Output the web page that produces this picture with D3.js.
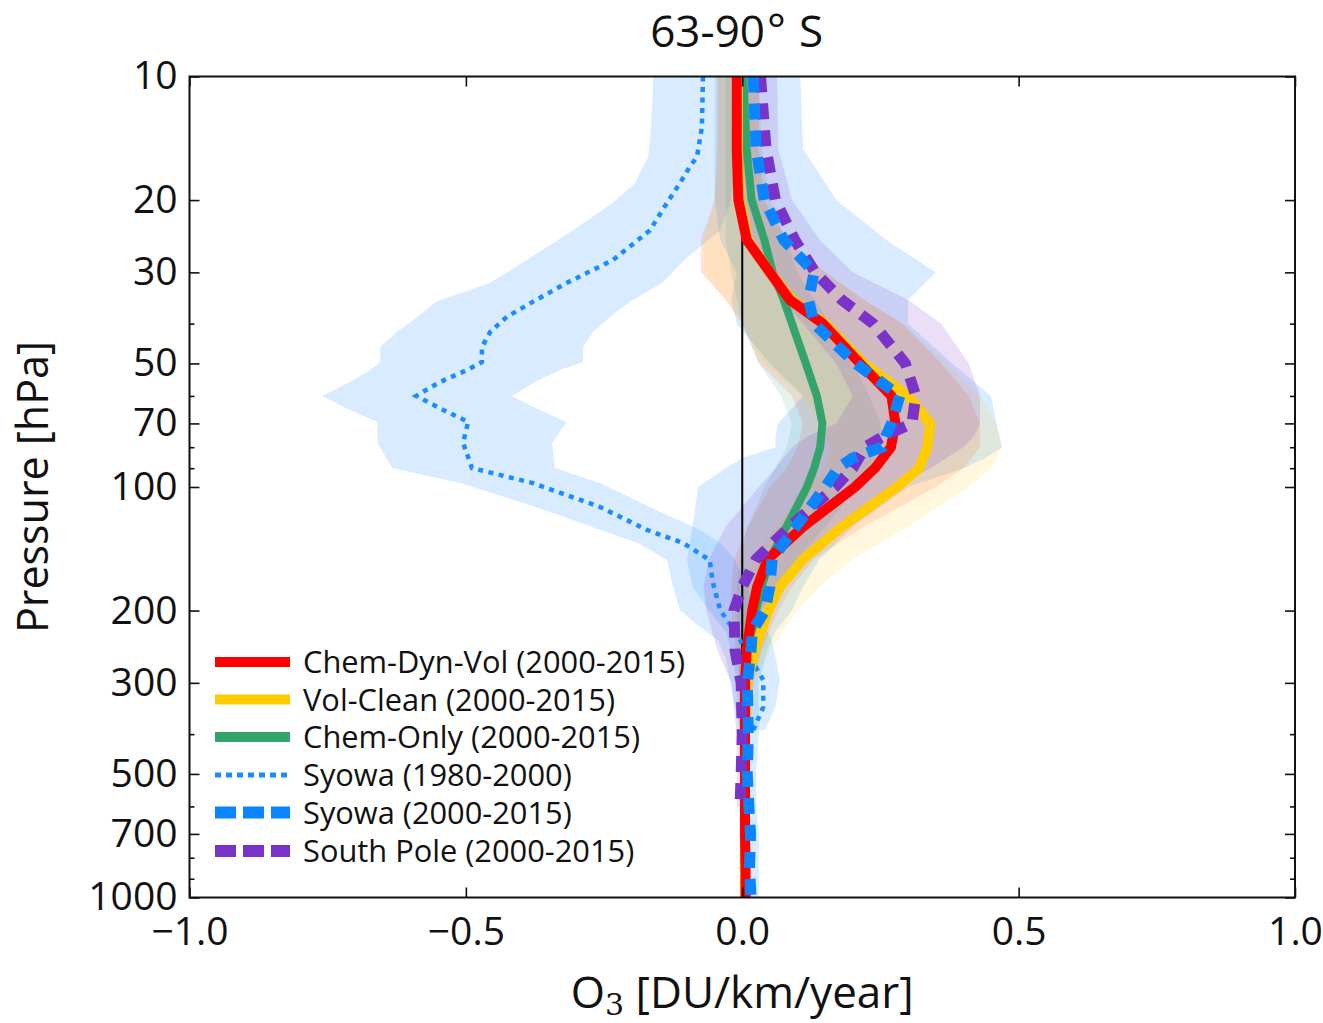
<!DOCTYPE html>
<html>
<head>
<meta charset="utf-8">
<script src="https://cdn.jsdelivr.net/npm/d3@7"></script>
<style>
  html, body { margin: 0; padding: 0; background: #fff; }
  text { font-family: "Open Sans", "DejaVu Sans", sans-serif; fill: #111; }
</style>
</head>
<body>
<svg id="chart" width="1323" height="1023"></svg>
<script>
// ---------------- DATA ----------------
// Model pressure levels (hPa)
const levels = [10,15,20,25,30,35,40,50,60,70,80,90,100,125,150,175,200,250,300,400,500,700,850,1000];
const chemDynVol     = [-0.01,-0.01,-0.007,0.008,0.05,0.086,0.146,0.213,0.27,0.277,0.269,0.24,0.204,0.11,0.046,0.027,0.018,0.008,0.005,0.005,0.005,0.005,0.006,0.006];
const chemDynVolLo   = [-0.045,-0.045,-0.05,-0.075,-0.075,-0.03,0.0,0.03,0.09,0.11,0.1,0.08,0.05,0.01,-0.015,-0.02,-0.02,-0.012,-0.006,-0.003,-0.002,-0.002,-0.002,-0.002];
const chemDynVolHi   = [0.03,0.03,0.04,0.08,0.15,0.22,0.29,0.36,0.41,0.43,0.43,0.4,0.35,0.22,0.13,0.09,0.065,0.035,0.02,0.014,0.012,0.012,0.012,0.012];
const volClean       = [-0.008,-0.008,-0.004,0.01,0.05,0.09,0.15,0.22,0.3,0.34,0.335,0.32,0.28,0.18,0.11,0.068,0.047,0.023,0.008,0.005,0.005,0.005,0.005,0.005];
const volCleanLo     = [-0.045,-0.045,-0.05,-0.07,-0.07,-0.03,0.0,0.04,0.11,0.14,0.16,0.15,0.12,0.06,0.02,0.0,-0.005,-0.005,-0.003,-0.002,-0.002,-0.002,-0.002,-0.002];
const volCleanHi     = [0.03,0.03,0.04,0.08,0.15,0.22,0.29,0.37,0.43,0.46,0.47,0.45,0.41,0.3,0.2,0.14,0.1,0.05,0.025,0.014,0.012,0.012,0.012,0.012];
const chemOnly       = [0.002,0.008,0.017,0.04,0.055,0.075,0.09,0.115,0.135,0.145,0.141,0.13,0.117,0.08,0.05,0.035,0.025,0.01,0.005,0.004,0.004,0.004,0.004,0.004];
const chemOnlyLo     = [-0.03,-0.03,-0.03,-0.03,-0.02,-0.01,0.0,0.03,0.07,0.09,0.08,0.06,0.04,0.01,-0.005,-0.01,-0.01,-0.008,-0.005,-0.003,-0.002,-0.002,-0.002,-0.002];
const chemOnlyHi     = [0.03,0.035,0.05,0.08,0.1,0.13,0.16,0.2,0.23,0.25,0.25,0.23,0.21,0.15,0.1,0.07,0.05,0.03,0.015,0.01,0.01,0.01,0.01,0.01];

// Syowa 1980-2000 (ozonesonde)
const syowaOldLevels = [10,13.3,15.7,16.6,18.2,20.3,23.7,28,31.8,35.4,38.5,41.9,45.6,49.6,51.9,55.5,60,64.9,69.4,78.1,89.9,97.8,111.9,127.3,136.9,150.6,171.3,199.3,219.3,235.8,259.5,295.2,343.6,390.8];
const syowaOld   = [-0.071,-0.073,-0.082,-0.095,-0.113,-0.136,-0.167,-0.234,-0.317,-0.379,-0.426,-0.456,-0.471,-0.471,-0.498,-0.547,-0.59,-0.541,-0.496,-0.505,-0.489,-0.379,-0.257,-0.172,-0.107,-0.059,-0.053,-0.04,-0.019,-0.004,0.014,0.038,0.038,0.02];
const syowaOldLo = [-0.161,-0.165,-0.17,-0.18,-0.194,-0.234,-0.306,-0.39,-0.456,-0.554,-0.587,-0.625,-0.655,-0.655,-0.673,-0.71,-0.76,-0.71,-0.66,-0.66,-0.633,-0.51,-0.373,-0.256,-0.189,-0.136,-0.127,-0.113,-0.077,-0.044,-0.031,-0.022,-0.013,-0.004];
const syowaOldHi = [-0.022,-0.02,-0.017,-0.017,-0.017,-0.022,-0.04,-0.105,-0.144,-0.203,-0.239,-0.27,-0.288,-0.288,-0.33,-0.375,-0.417,-0.366,-0.318,-0.344,-0.339,-0.257,-0.167,-0.076,-0.04,-0.013,0.005,0.023,0.041,0.053,0.06,0.068,0.06,0.041];

// Syowa 2000-2015
const syowaNewLevels = [10,15,20,25,30,35,40,50,60,70,75,80,85,90,100,125,150,175,200,225,250,300,400,500,600,700,850,1000];
const syowaNew   = [0.02,0.025,0.04,0.075,0.13,0.12,0.13,0.205,0.285,0.27,0.26,0.253,0.2,0.173,0.15,0.097,0.054,0.05,0.041,0.018,0.016,0.009,0.011,0.009,0.012,0.015,0.013,0.016];
const syowaNewLo = [-0.05,-0.05,-0.05,-0.04,-0.01,-0.02,-0.01,0.05,0.11,0.065,0.06,0.06,0.0,-0.03,-0.08,-0.09,-0.1,-0.09,-0.06,-0.03,-0.02,-0.01,-0.005,-0.005,-0.003,-0.002,-0.002,0.0];
const syowaNewHi = [0.105,0.11,0.17,0.26,0.35,0.3,0.3,0.38,0.45,0.46,0.465,0.47,0.44,0.4,0.3,0.2,0.14,0.11,0.09,0.06,0.045,0.03,0.03,0.025,0.025,0.03,0.03,0.03];

// South Pole 2000-2015
const southPoleLevels = [10,15,20,25,30,35,40,50,60,70,75,80,90,100,125,150,175,200,250,300,400,500,600];
const southPole   = [0.033,0.043,0.06,0.095,0.132,0.18,0.237,0.295,0.314,0.307,0.258,0.222,0.2,0.168,0.086,0.025,0.0,-0.015,-0.013,-0.002,0.0,-0.002,-0.004];
const southPoleLo = [0.0,0.0,0.005,0.02,0.04,0.07,0.11,0.17,0.2,0.17,0.12,0.09,0.06,0.03,-0.03,-0.06,-0.07,-0.065,-0.045,-0.02,-0.01,-0.01,-0.01];
const southPoleHi = [0.063,0.065,0.09,0.14,0.2,0.3,0.36,0.41,0.43,0.43,0.42,0.4,0.34,0.28,0.17,0.1,0.06,0.035,0.02,0.012,0.01,0.008,0.006];

// Axis ticks
const yMajorTicks = [10,20,30,50,70,100,200,300,500,700,1000];
const yMinorTicks = [40,60,80,90,400,600,800,900];
const xTicks = [-1.0,-0.5,0.0,0.5,1.0];

const legendLabels = ["Chem-Dyn-Vol (2000-2015)","Vol-Clean (2000-2015)","Chem-Only (2000-2015)","Syowa (1980-2000)","Syowa (2000-2015)","South Pole (2000-2015)"];

// ---------------- DRAW ----------------
const svg = d3.select("#chart");
const L = 189.5, R = 1295, T = 76.5, B = 897.5;
const x = d3.scaleLinear().domain([-1, 1]).range([L, R]);
const y = d3.scaleLog().domain([10, 1000]).range([T, B]);

svg.append("rect").attr("width",1323).attr("height",1023).attr("fill","#fff");
svg.append("defs").append("clipPath").attr("id","clip")
  .append("rect").attr("x",L).attr("y",T).attr("width",R-L).attr("height",B-T);

const plot = svg.append("g").attr("clip-path","url(#clip)");

function zip(lv, a, lo, hi) { return lv.map((p,i)=>({p, v:a[i], lo: lo?lo[i]:null, hi: hi?hi[i]:null})); }

const area = d3.area().y(d=>y(d.p)).x0(d=>x(d.lo)).x1(d=>x(d.hi));
const line = d3.line().x(d=>x(d.v)).y(d=>y(d.p));

const C = {
  red: "#ff0000", yellow: "#ffcc00", green: "#33a46c",
  blue: "#0a85ff", dotted: "#1a8cff", purple: "#7a33c9"
};

const dOld = zip(syowaOldLevels, syowaOld, syowaOldLo, syowaOldHi);
const dNew = zip(syowaNewLevels, syowaNew, syowaNewLo, syowaNewHi);
const dSP  = zip(southPoleLevels, southPole, southPoleLo, southPoleHi);
const dRed = zip(levels, chemDynVol, chemDynVolLo, chemDynVolHi);
const dYel = zip(levels, volClean, volCleanLo, volCleanHi);
const dGrn = zip(levels, chemOnly, chemOnlyLo, chemOnlyHi);

// bands
plot.append("path").datum(dOld).attr("d",area).attr("fill","#1e90ff").attr("fill-opacity",0.17);
plot.append("path").datum(dNew).attr("d",area).attr("fill","#1e90ff").attr("fill-opacity",0.17);
plot.append("path").datum(dRed).attr("d",area).attr("fill","#ff3300").attr("fill-opacity",0.13);
plot.append("path").datum(dYel).attr("d",area).attr("fill","#ffcc00").attr("fill-opacity",0.13);
plot.append("path").datum(dGrn).attr("d",area).attr("fill","#2e9e6b").attr("fill-opacity",0.12);
plot.append("path").datum(dSP).attr("d",area).attr("fill","#7b35c8").attr("fill-opacity",0.16);

// zero line
plot.append("line").attr("x1",x(0)).attr("x2",x(0)).attr("y1",T).attr("y2",B)
  .attr("stroke","#000").attr("stroke-width",2);

// lines
plot.append("path").datum(dOld).attr("d",line).attr("fill","none")
  .attr("stroke",C.dotted).attr("stroke-width",4.5).attr("stroke-dasharray","5,5.5");
plot.append("path").datum(dGrn).attr("d",line).attr("fill","none")
  .attr("stroke",C.green).attr("stroke-width",8).attr("stroke-linejoin","round");
plot.append("path").datum(dYel).attr("d",line).attr("fill","none")
  .attr("stroke",C.yellow).attr("stroke-width",10).attr("stroke-linejoin","round");
plot.append("path").datum(dRed).attr("d",line).attr("fill","none")
  .attr("stroke",C.red).attr("stroke-width",10).attr("stroke-linejoin","round");
plot.append("path").datum(dSP).attr("d",line).attr("fill","none")
  .attr("stroke",C.purple).attr("stroke-width",11).attr("stroke-dasharray","16,11");
plot.append("path").datum(dNew).attr("d",line).attr("fill","none")
  .attr("stroke",C.blue).attr("stroke-width",11).attr("stroke-dasharray","16,11");

// axes
const fontTick = 39;
const ax = svg.append("g");
ax.append("g").attr("transform",`translate(${L},0)`)
  .call(d3.axisLeft(y).tickValues(yMajorTicks).tickFormat(d3.format("d")).tickSizeInner(-10).tickSizeOuter(0).tickPadding(12));
ax.append("g").attr("transform",`translate(${L},0)`)
  .call(d3.axisLeft(y).tickValues(yMinorTicks).tickFormat("").tickSizeInner(-5).tickSizeOuter(0));
ax.append("g").attr("transform",`translate(${R},0)`)
  .call(d3.axisRight(y).tickValues(yMajorTicks).tickFormat("").tickSizeInner(-10).tickSizeOuter(0));
ax.append("g").attr("transform",`translate(${R},0)`)
  .call(d3.axisRight(y).tickValues(yMinorTicks).tickFormat("").tickSizeInner(-5).tickSizeOuter(0));
ax.append("g").attr("transform",`translate(0,${B})`)
  .call(d3.axisBottom(x).tickValues(xTicks).tickFormat(d=>d3.format(".1f")(d).replace("-","\u2212")).tickSizeInner(-10).tickSizeOuter(0).tickPadding(20));
ax.append("g").attr("transform",`translate(0,${T})`)
  .call(d3.axisTop(x).tickValues(xTicks).tickFormat("").tickSizeInner(-10).tickSizeOuter(0));

ax.selectAll(".domain").remove();
ax.selectAll(".tick line").attr("stroke","#111").attr("stroke-width",1.6);
ax.selectAll(".tick text").attr("font-size",fontTick).attr("fill","#111")
  .attr("font-family",'"Open Sans", sans-serif');

// frame
svg.append("rect").attr("x",L).attr("y",T).attr("width",R-L).attr("height",B-T)
  .attr("fill","none").attr("stroke","#111").attr("stroke-width",2);

// title
svg.append("text").attr("x",765).attr("y",47).attr("text-anchor","end").attr("font-size",44).text("63-90");
svg.append("text").attr("x",767).attr("y",45).attr("text-anchor","start").attr("font-size",44).text("\u00b0");
svg.append("text").attr("x",799).attr("y",47).attr("text-anchor","start").attr("font-size",44).text("S");

// y label
svg.append("text").attr("transform",`translate(48,${(T+B)/2}) rotate(-90)`)
  .attr("text-anchor","middle").attr("font-size",43).text("Pressure [hPa]");

// x label
const xl = svg.append("text").attr("x",(L+R)/2).attr("y",1008).attr("text-anchor","middle").attr("font-size",44);
xl.append("tspan").text("O");
xl.append("tspan").attr("font-size",30).attr("dy",7).attr("font-family",'"DejaVu Serif", serif').text("3");
xl.append("tspan").attr("dy",-7).text(" [DU/km/year]");

// legend
const legRows = [662, 699.5, 737, 775, 812.5, 851];
const legStyles = [
  {c:C.red, w:10, dash:null},
  {c:C.yellow, w:10, dash:null},
  {c:C.green, w:10, dash:null},
  {c:C.dotted, w:5, dash:"6,5"},
  {c:C.blue, w:12, dash:"21,7"},
  {c:C.purple, w:12, dash:"21,7"}
];
const leg = svg.append("g");
legendLabels.forEach((lab,i)=>{
  const s = legStyles[i];
  const ln = leg.append("line").attr("x1",215).attr("x2",290).attr("y1",legRows[i]).attr("y2",legRows[i])
    .attr("stroke",s.c).attr("stroke-width",s.w);
  if (s.dash) ln.attr("stroke-dasharray",s.dash);
  leg.append("text").attr("x",303).attr("y",legRows[i]+11).attr("font-size",30.8).text(lab);
});
</script>
</body>
</html>
